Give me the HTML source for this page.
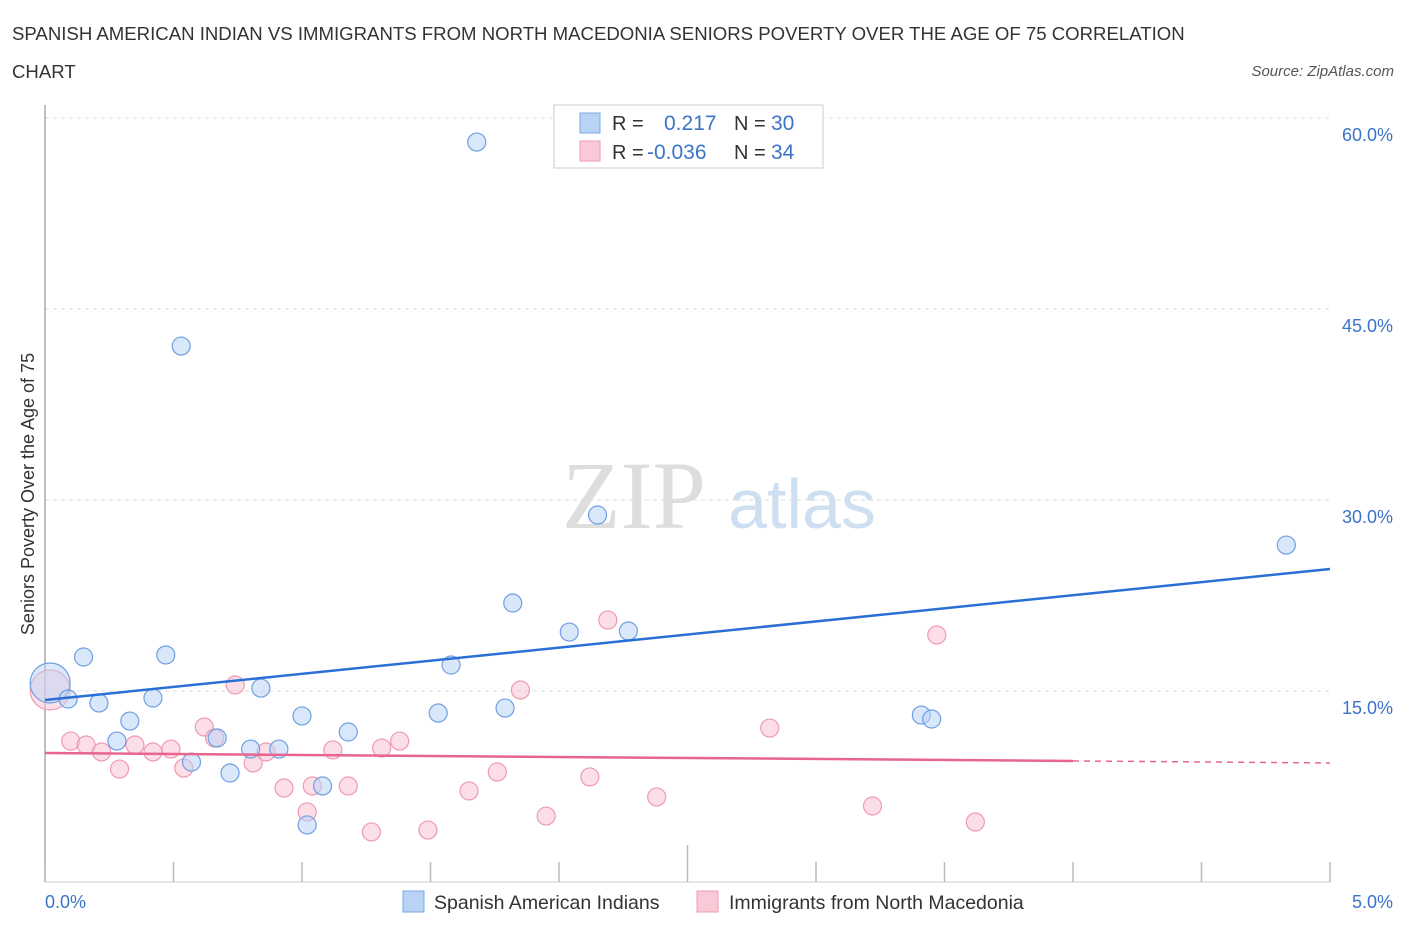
<!DOCTYPE html>
<html><head><meta charset="utf-8"><style>
body{margin:0;background:#fff;font-family:"Liberation Sans",sans-serif;}
</style></head><body>
<svg width="1406" height="930" xmlns="http://www.w3.org/2000/svg" style="font-family:'Liberation Sans',sans-serif">
<text x="12" y="40" font-size="18.6" fill="#333">SPANISH AMERICAN INDIAN VS IMMIGRANTS FROM NORTH MACEDONIA SENIORS POVERTY OVER THE AGE OF 75 CORRELATION</text>
<text x="12" y="78" font-size="18.6" fill="#333">CHART</text>
<text x="1394" y="76" font-size="15" fill="#555" font-style="italic" text-anchor="end">Source: ZipAtlas.com</text>
<text x="634" y="528" font-size="96" fill="#ddd" font-family="Liberation Serif,serif" text-anchor="middle">ZIP</text>
<text x="802" y="528" font-size="70" fill="#cfdff2" text-anchor="middle">atlas</text>
<g id="grid"></g>
<line x1="45" y1="105" x2="45" y2="882" stroke="#aaa" stroke-width="1.5"/>
<line x1="45" y1="882" x2="1330" y2="882" stroke="#ccc" stroke-width="1"/>
<g id="ticks"></g>
<text x="34" y="494" font-size="18" fill="#333" text-anchor="middle" transform="rotate(-90 34 494)">Seniors Poverty Over the Age of 75</text>
<text x="45" y="908" font-size="18" fill="#3b73c9">0.0%</text>
<text x="1393" y="908" font-size="18" fill="#3b73c9" text-anchor="end">5.0%</text>
<g id="pts"></g>
<g id="trends"></g>
<g>
<rect x="554" y="105" width="269" height="63" fill="#fff" stroke="#ccc"/>
<rect x="580" y="113" width="20" height="20" fill="#b9d3f5" stroke="#7aa7e6"/>
<rect x="580" y="141" width="20" height="20" fill="#f9c9d7" stroke="#ee9ab3"/>
<text x="612" y="130" font-size="20" fill="#333">R = </text><text x="664" y="130" font-size="21" fill="#3b73c9">0.217</text>
<text x="734" y="130" font-size="20" fill="#333">N = </text><text x="771" y="130" font-size="21" fill="#3b73c9">30</text>
<text x="612" y="159" font-size="20" fill="#333">R = </text><text x="647" y="159" font-size="21" fill="#3b73c9">-0.036</text>
<text x="734" y="159" font-size="20" fill="#333">N = </text><text x="771" y="159" font-size="21" fill="#3b73c9">34</text>
</g>
<g>
<rect x="403" y="891" width="21" height="21" fill="#b9d3f5" stroke="#7aa7e6"/>
<text x="434" y="909" font-size="19.5" fill="#333">Spanish American Indians</text>
<rect x="697" y="891" width="21" height="21" fill="#f9c9d7" stroke="#ee9ab3"/>
<text x="729" y="909" font-size="19.5" fill="#333">Immigrants from North Macedonia</text>
</g>
</svg>
<script>
const yTicks=[15,30,45,60];
const yTickLabels=["15.0%","30.0%","45.0%","60.0%"];
const blueX=[0.02,0.09,0.15,0.21,0.33,0.28,0.42,0.47,0.53,0.57,0.67,0.72,0.80,0.84,0.91,1.00,1.02,1.08,1.18,1.53,1.58,1.68,1.79,1.82,2.04,2.15,2.27,3.41,3.45,4.83];
const blueY=[15.63,14.37,17.67,14.06,12.64,11.07,14.45,17.83,42.09,9.42,11.31,8.56,10.44,15.23,10.44,13.04,4.48,7.54,11.78,13.27,17.04,58.11,13.66,21.91,19.63,28.82,19.71,13.11,12.80,26.46];
const pinkX=[0.02,0.10,0.16,0.22,0.29,0.35,0.42,0.49,0.54,0.62,0.66,0.74,0.81,0.86,0.93,1.02,1.04,1.12,1.18,1.27,1.31,1.38,1.49,1.65,1.76,1.85,1.95,2.12,2.19,2.38,2.82,3.22,3.47,3.62];
const pinkY=[15.08,11.07,10.76,10.21,8.87,10.76,10.21,10.44,8.95,12.17,11.31,15.47,9.35,10.21,7.38,5.50,7.54,10.37,7.54,3.93,10.52,11.07,4.08,7.15,8.64,15.08,5.18,8.25,20.57,6.68,12.09,5.97,19.40,4.71];
const blueTrend=[14.29,24.58];
const pinkTrend=[10.13,9.35];
const NS="http://www.w3.org/2000/svg";
const sx=v=>45+v/5*1285, sy=v=>882-v/60*764;
function mk(t,a,p){const e=document.createElementNS(NS,t);for(const k in a)e.setAttribute(k,a[k]);p.appendChild(e);return e;}
const grid=document.getElementById('grid');
yTicks.forEach((t,i)=>{
  const l=mk('line',{x1:45,x2:1330,y1:sy(t),y2:sy(t),stroke:'#ddd','stroke-dasharray':'4,4'},grid);
  
  
  const tx=mk('text',{x:1393,y:sy(t)+23,'font-size':18,fill:'#3b73c9','text-anchor':'end'},grid);
  tx.textContent=yTickLabels[i];
  
  
});
const tk=document.getElementById('ticks');
for(let k=0;k<=10;k++){
  const l=mk('line',{x1:45+128.5*k,x2:45+128.5*k,y1:k==5?845:862,y2:882,stroke:'#bbb','stroke-width':1.5},tk);
  
  
}
const pts=document.getElementById('pts');
function draw(xs,ys,fill,stroke,name){
  xs.forEach((x,i)=>{
    const big=i==0;
    const c=mk('circle',{cx:sx(x),cy:sy(ys[i]),r:big?20:9,fill:fill,'fill-opacity':big?0.5:0.55,stroke:stroke,'stroke-width':1.2},pts);
    
    
  });
}
draw(pinkX,pinkY,'#f9c3d3','#ee9ab3','point-north-macedonia');
draw(blueX,blueY,'#b9d3f5','#6f9fe3','point-spanish-american-indian');
const tr=document.getElementById('trends');
let b=mk('line',{x1:sx(0),y1:sy(blueTrend[0]),x2:sx(5),y2:sy(blueTrend[1]),stroke:'#2a6fd6','stroke-width':2.5},tr);


const pAt=x=>pinkTrend[0]+(pinkTrend[1]-pinkTrend[0])*x/5;
let p=mk('line',{x1:sx(0),y1:sy(pAt(0)),x2:sx(4),y2:sy(pAt(4)),stroke:'#e8658f','stroke-width':2.5},tr);


let pd=mk('line',{x1:sx(4),y1:sy(pAt(4)),x2:sx(5),y2:sy(pAt(5)),stroke:'#e8658f','stroke-width':1.5,'stroke-dasharray':'6,5'},tr);


</script>
</body></html>
